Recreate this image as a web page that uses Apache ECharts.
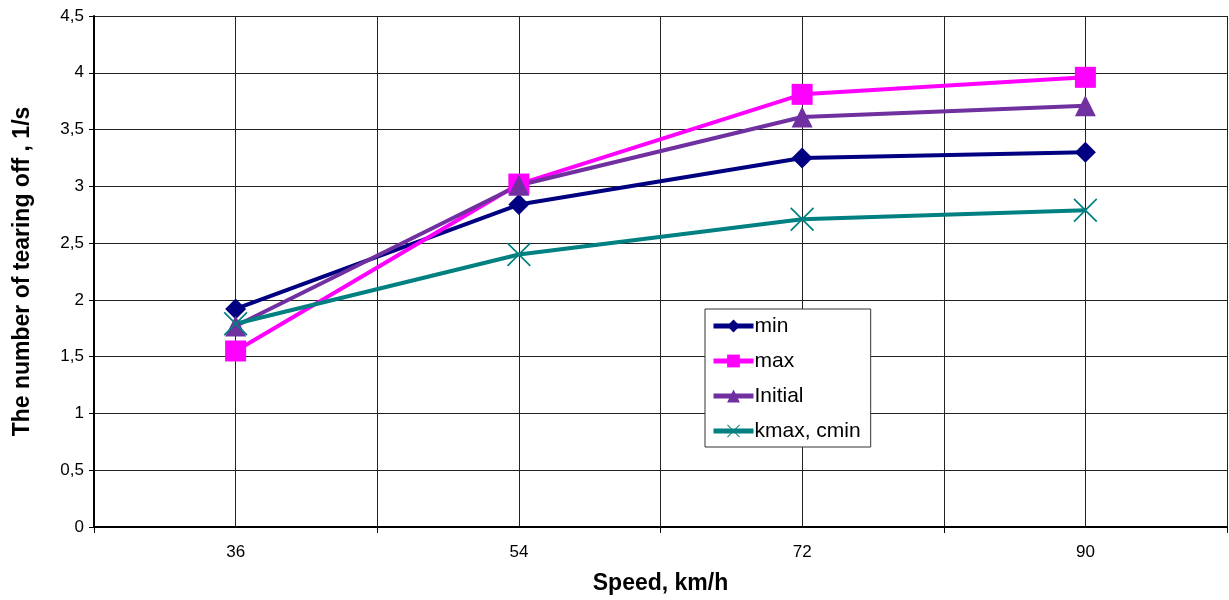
<!DOCTYPE html>
<html>
<head>
<meta charset="utf-8">
<script src="https://cdn.jsdelivr.net/npm/echarts@6/dist/echarts.min.js"></script>
<style>
  html, body { margin: 0; padding: 0; background: #fff; }
  #chart { width: 1229px; height: 600px; }
</style>
</head>
<body>
<div id="chart"></div>
<script>
  // speeds, km/h
  const speeds = [36, 54, 72, 90]
  const minVals = [1.92, 2.84, 3.25, 3.30]
  const maxVals = [1.55, 3.02, 3.81, 3.96]
  const initialVals = [1.77, 3.01, 3.61, 3.71]
  const kmaxVals = [1.79, 2.40, 2.71, 2.79]
  // category edges where the x ticks sit
  const xEdges = [27, 45, 63, 81, 99]

  const font = 'Liberation Sans, Arial, sans-serif'
  const crossPath = 'path://M0,1L1,0L20,19L19,20Z M19,0L20,1L1,20L0,19Z'

  function mk(name, vals, color, symbol, size) {
    return {
      name: name,
      type: 'line',
      data: speeds.map((s, i) => [s, vals[i]]),
      symbol: symbol,
      symbolSize: size,
      lineStyle: { color: color, width: 4 },
      itemStyle: { color: color },
      z: 3
    }
  }

  const mychart = echarts.init(document.getElementById('chart'))
  mychart.setOption({
    animation: false,
    grid: { left: 94, right: 2, top: 16, bottom: 73, outerBoundsMode: 'none', containLabel: false },
    legend: {
      orient: 'vertical',
      left: 705,
      top: 309,
      backgroundColor: '#fff',
      borderColor: '#333',
      borderWidth: 1,
      padding: [6, 10, 5, 6],
      itemWidth: 40,
      itemHeight: 16,
      itemGap: 13,
      lineStyle: { width: 5 },
      textStyle: { fontFamily: font, fontSize: 21, lineHeight: 22, color: '#000', padding: [0, 0, 0, -4] },
      data: ['min', 'max', 'Initial', 'kmax, cmin']
    },
    xAxis: [{
      type: 'value',
      min: 27,
      max: 99,
      interval: 9,
      name: 'Speed, km/h',
      nameLocation: 'middle',
      nameGap: 45,
      nameTextStyle: { fontFamily: font, fontSize: 23, fontWeight: 'bold', color: '#000' },
      axisLine: { show: true, lineStyle: { color: '#000', width: 2 } },
      axisTick: { show: true, customValues: xEdges, length: 6, lineStyle: { color: '#000' } },
      axisLabel: { customValues: speeds, margin: 17, fontFamily: font, fontSize: 17, color: '#000' },
      splitLine: { show: false },
      z: 2
    }, {
      // grid lines at every half category
      type: 'value',
      position: 'bottom',
      min: 27,
      max: 99,
      interval: 9,
      axisLine: { show: false },
      axisTick: { show: false },
      axisLabel: { show: false },
      splitLine: { show: true, lineStyle: { color: '#222', width: 1 } }
    }],
    yAxis: {
      type: 'value',
      min: 0,
      max: 4.5,
      interval: 0.5,
      name: 'The number of tearing off , 1/s',
      nameLocation: 'middle',
      nameGap: 60,
      nameTextStyle: { fontFamily: font, fontSize: 23, fontWeight: 'bold', color: '#000' },
      axisLine: { show: true, lineStyle: { color: '#000', width: 2 } },
      axisTick: { show: true, length: 5, lineStyle: { color: '#000' } },
      axisLabel: {
        margin: 10,
        fontFamily: font,
        fontSize: 17,
        color: '#000',
        formatter: v => String(v).replace('.', ',')
      },
      splitLine: { show: true, lineStyle: { color: '#222', width: 1 } }
    },
    series: [
      mk('min', minVals, '#000080', 'diamond', 21),
      mk('max', maxVals, '#ff00ff', 'rect', 21),
      mk('Initial', initialVals, '#7030a0', 'triangle', 21),
      mk('kmax, cmin', kmaxVals, '#008080', crossPath, 24)
    ]
  })
</script>
</body>
</html>
